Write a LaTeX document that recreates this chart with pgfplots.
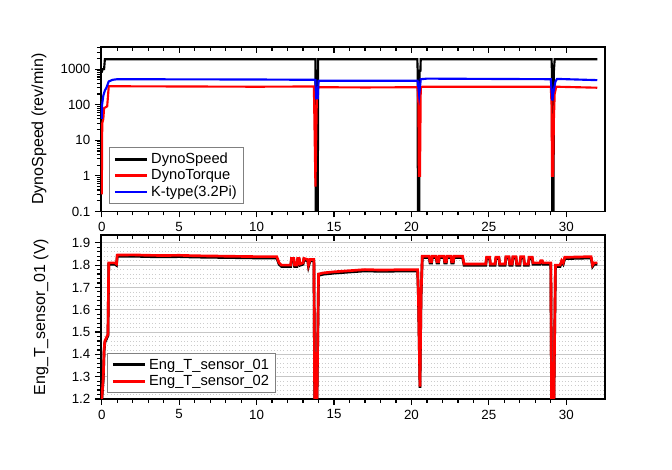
\documentclass[border=0pt]{standalone}
\usepackage{pgfplots}
\pgfplotsset{compat=1.18}
\usepackage{fontspec}
\setmainfont{Liberation Sans}
\pgfplotsset{
  common/.style={
    scale only axis, width=378pt, height=123pt,
    xmin=-0.05, xmax=32.5,
    xtick={0,5,...,30}, minor x tick num=4,
    /pgf/number format/assume math mode=true,
    tick label style={font=\fontsize{10}{12}\selectfont},
    label style={font=\fontsize{12}{14}\selectfont},
    axis line style={line width=0.9pt},
    major tick length=4.5pt, minor tick length=3pt,
    every tick/.style={black, line width=0.9pt},
    tick align=outside, xtick pos=bottom, ytick pos=left,
    legend style={font=\fontsize{11}{13}\selectfont, draw=gray, inner xsep=3pt, inner ysep=2pt, row sep=-1pt},
    legend cell align=left,
    legend image code/.code={\draw[#1, line width=2.2pt] (0cm,0cm) -- (0.85cm,0cm);},
    clip=true,
  },
  topticks/.style={
    scale only axis, width=378pt, height=123pt,
    xmin=-0.05, xmax=32.5,
    xtick={0,5,...,30}, minor x tick num=4,
    xticklabels={}, ytick=\empty, axis line style={draw=none},
    major tick length=4.5pt, minor tick length=3pt,
    every tick/.style={black, line width=0.9pt},
    tick align=inside, xtick pos=top,
  }
}
\begin{document}
\begin{tikzpicture}
\path[use as bounding box] (0,0) rectangle (504pt,352.5pt);
% ---------------- top axis
\begin{axis}[common, at={(75.75pt,193.9pt)}, anchor=south west,
  height=123.4pt,
  ymode=log, ymin=0.1, ymax=4200,
  ytick={0.1,1,10,100,1000}, yticklabels={0.1,1,10,100,1000},
  minor ytick={0.2,0.3,0.4,0.5,0.6,0.7,0.8,0.9,2,3,4,5,6,7,8,9,20,30,40,50,60,70,80,90,200,300,400,500,600,700,800,900,2000,3000,4000},
  minor y tick style={black, line width=0.8pt},
  ylabel={DynoSpeed (rev/min)},
  ylabel style={at={(axis description cs:-0.123,0.5)}, anchor=center},
  legend style={at={(axis description cs:0.016,0.046)}, anchor=south west},
]
\addplot[black, line width=1.6pt] coordinates {
(0,800) (0.05,1000) (0.15,1000) (0.2,1900) (5,1900) (10,1900) (13.8,1900) (13.82,0.01) (13.95,0.01) (13.97,1900)
(20.38,1900) (20.4,900) (20.42,0.01) (20.5,0.01) (20.52,900) (20.58,900) (20.6,1900)
(29.05,1900) (29.07,900) (29.1,0.01) (29.17,0.01) (29.2,900) (29.25,1900) (32,1900)
};
\addlegendentry{DynoSpeed}
\addplot[red, line width=1.6pt] coordinates {
(0,0.3) (0.03,30) (0.1,40) (0.15,80) (0.35,90) (0.45,330) (5,325) (10,320) (13.7,325)
(13.75,12) (13.8,0.5) (13.85,12) (13.9,300) (14,310) (17,305) (20.4,310)
(20.45,100) (20.48,1) (20.55,1) (20.6,300) (20.7,320) (25,318) (29.0,320)
(29.05,100) (29.08,1) (29.15,1) (29.2,40) (29.25,200) (29.35,320) (32,300)
};
\addlegendentry{DynoTorque}
\addplot[blue, line width=1.6pt] coordinates {
(0,40) (0.02,100) (0.1,180) (0.2,250) (0.3,300) (0.45,450) (0.7,500) (1,520) (10,510) (13.8,500)
(13.84,150) (13.95,150) (14.0,470) (20.4,470) (20.45,300) (20.5,185) (20.55,300) (20.6,520)
(21,540) (29.0,520) (29.1,130) (29.15,200) (29.3,450) (29.4,530) (32,490)
};
\addlegendentry{K-type(3.2Pi)}
\end{axis}
\begin{axis}[topticks, at={(75.75pt,193.9pt)}, anchor=south west, height=123.4pt, ymin=0, ymax=1]
\end{axis}
% ---------------- bottom axis
\begin{axis}[common, at={(75.75pt,53.25pt)}, anchor=south west,
  ymin=1.2, ymax=1.935,
  ytick={1.2,1.3,...,1.9}, minor y tick num=4,
  yticklabel style={/pgf/number format/.cd, fixed, fixed zerofill, precision=1},
  ymajorgrids, yminorgrids,
  major grid style={gray!45, line width=0.6pt},
  minor grid style={gray!40, dotted, line width=0.5pt},
  ylabel={Eng\_T\_sensor\_01 (V)},
  ylabel style={at={(axis description cs:-0.119,0.5)}, anchor=center},
  legend style={at={(axis description cs:0.012,0.037)}, anchor=south west},
]
\addplot[black, line width=2pt] coordinates {
(0,1.194) (0.05,1.244) (0.1,1.294) (0.15,1.414) (0.2,1.454) (0.4,1.484) (0.45,1.804) (0.85,1.804) (0.95,1.799) (1.0,1.839)
(2,1.840) (3,1.838) (4,1.837) (5,1.838) (6,1.836) (7,1.835) (8,1.834) (9,1.833) (10,1.832) (11.3,1.832)
(11.45,1.804) (11.6,1.794) (12.2,1.794) (12.25,1.824) (12.4,1.824) (12.45,1.794) (12.6,1.794) (12.65,1.824) (12.75,1.824)
(12.8,1.799) (13.0,1.804) (13.05,1.824) (13.3,1.819) (13.35,1.794) (13.45,1.819) (13.7,1.819) (13.75,1.194) (13.9,1.194)
(14.0,1.754) (14.3,1.759) (15,1.764) (16,1.769) (17,1.774) (18,1.772) (19,1.773) (20.4,1.773) (20.45,1.654) (20.55,1.250) (20.62,1.654)
(20.7,1.834) (21.15,1.834) (21.2,1.809) (21.3,1.809) (21.35,1.834) (21.6,1.834) (21.65,1.809) (21.75,1.809) (21.8,1.834)
(22.1,1.834) (22.15,1.809) (22.25,1.809) (22.3,1.834) (22.55,1.834) (22.6,1.809) (22.7,1.809) (22.75,1.834) (23.3,1.834)
(23.4,1.799) (24.8,1.799) (24.85,1.829) (25.05,1.829) (25.1,1.799) (25.4,1.799) (25.45,1.829) (25.65,1.829) (25.7,1.799)
(26.05,1.799) (26.1,1.832) (26.3,1.832) (26.35,1.799) (26.5,1.799) (26.55,1.832) (26.75,1.832) (26.8,1.799)
(27.0,1.799) (27.05,1.832) (27.25,1.832) (27.3,1.799) (27.55,1.799) (27.6,1.830) (27.8,1.830) (27.85,1.804)
(28.3,1.804) (28.35,1.814) (28.45,1.814) (28.5,1.804) (29.0,1.804) (29.05,1.194) (29.2,1.194) (29.3,1.794)
(29.6,1.794) (29.7,1.814) (29.8,1.804) (29.9,1.829) (31.6,1.832) (31.7,1.794) (31.8,1.804) (32.0,1.804)
};
\addlegendentry{Eng\_T\_sensor\_01}
\addplot[red, line width=2pt] coordinates {
(0,1.20) (0.05,1.25) (0.1,1.30) (0.15,1.42) (0.2,1.46) (0.4,1.49) (0.45,1.81) (0.85,1.81) (0.95,1.805) (1.0,1.845)
(2,1.846) (3,1.844) (4,1.843) (5,1.844) (6,1.842) (7,1.841) (8,1.840) (9,1.839) (10,1.838) (11.3,1.838)
(11.45,1.81) (11.6,1.80) (12.2,1.80) (12.25,1.83) (12.4,1.83) (12.45,1.80) (12.6,1.80) (12.65,1.83) (12.75,1.83)
(12.8,1.805) (13.0,1.81) (13.05,1.83) (13.3,1.825) (13.35,1.80) (13.45,1.825) (13.7,1.825) (13.75,1.20) (13.9,1.20)
(14.0,1.76) (14.3,1.765) (15,1.770) (16,1.775) (17,1.780) (18,1.778) (19,1.779) (20.4,1.779) (20.45,1.66) (20.55,1.256) (20.62,1.66)
(20.7,1.84) (21.15,1.84) (21.2,1.815) (21.3,1.815) (21.35,1.84) (21.6,1.84) (21.65,1.815) (21.75,1.815) (21.8,1.84)
(22.1,1.84) (22.15,1.815) (22.25,1.815) (22.3,1.84) (22.55,1.84) (22.6,1.815) (22.7,1.815) (22.75,1.84) (23.3,1.84)
(23.4,1.805) (24.8,1.805) (24.85,1.835) (25.05,1.835) (25.1,1.805) (25.4,1.805) (25.45,1.835) (25.65,1.835) (25.7,1.805)
(26.05,1.805) (26.1,1.838) (26.3,1.838) (26.35,1.805) (26.5,1.805) (26.55,1.838) (26.75,1.838) (26.8,1.805)
(27.0,1.805) (27.05,1.838) (27.25,1.838) (27.3,1.805) (27.55,1.805) (27.6,1.836) (27.8,1.836) (27.85,1.81)
(28.3,1.81) (28.35,1.82) (28.45,1.82) (28.5,1.81) (29.0,1.81) (29.05,1.20) (29.2,1.20) (29.3,1.80)
(29.6,1.80) (29.7,1.82) (29.8,1.81) (29.9,1.835) (31.6,1.838) (31.7,1.80) (31.8,1.81) (32.0,1.81)
};
\addlegendentry{Eng\_T\_sensor\_02}
\end{axis}
\begin{axis}[topticks, at={(75.75pt,53.25pt)}, anchor=south west, ymin=0, ymax=1]
\end{axis}
\end{tikzpicture}
\end{document}
